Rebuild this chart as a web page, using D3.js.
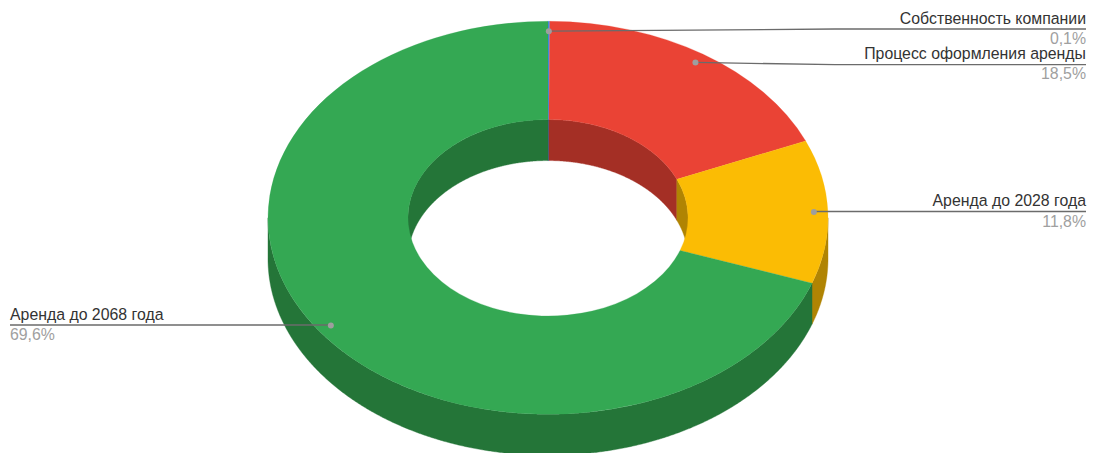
<!DOCTYPE html>
<html><head><meta charset="utf-8">
<script src="https://cdnjs.cloudflare.com/ajax/libs/d3/7.8.5/d3.min.js"></script>
<style>html,body{margin:0;padding:0;background:#fff;overflow:hidden}svg{display:block}text{font-family:"Liberation Sans",Arial,sans-serif;font-size:15.85px}</style>
</head><body><svg id="c" width="1097" height="453"></svg>
<script>
const categories = ["Собственность компании","Процесс оформления аренды","Аренда до 2028 года","Аренда до 2068 года"];
const values = [0.1,18.5,11.8,69.6];
const valueLabels = ["0,1%","18,5%","11,8%","69,6%"];
const colors = ["#4285f4","#ea4335","#fbbc04","#34a853"];
const sideColors = ["#2e5daa","#a42f25","#b08403","#247538"];

const W=1097,H=453,cx=548,cy=217.8,rx=280,ry=196.5,depth=41,holeRatio=0.5,dotRatio=0.95;
// label layout: elbow x, line y, name baseline, value baseline, anchor, text x
const layout=[
 {ex:835,ly:29,ny:24,vy:44,tx:1086,end:1086,anchor:"end"},
 {ex:835,ly:64.7,ny:59,vy:79,tx:1086,end:1086,anchor:"end"},
 {ex:813,ly:211.5,ny:206,vy:227,tx:1086,end:1086,anchor:"end"},
 {ex:331,ly:325,ny:320,vy:340,tx:10,end:10,anchor:"start"}
];
const svg=d3.select("#c");
const pie=d3.pie().sort(null).value(d=>d)(values);
const ex=d3.scaleLinear().domain([-1,1]).range([cx-rx,cx+rx]);
const ey=d3.scaleLinear().domain([-1,1]).range([cy-ry,cy+ry]);
const pt=(t,k,dy=0)=>[ex(k*Math.sin(t)),ey(-k*Math.cos(t))+dy];
const line=d3.line().curve(d3.curveLinear);
const range=(a,b)=>{const n=Math.max(2,Math.ceil((b-a)/0.005));return d3.range(n+1).map(i=>a+(b-a)*i/n);};
function wall(a,b,k){
  if(b<=a) return null;
  const ts=range(a,b);
  return line([...ts.map(t=>pt(t,k)),...ts.slice().reverse().map(t=>pt(t,k,depth))])+"Z";
}
const P=Math.PI;
// inner walls: the far side of the hole (angle within -90..90 degrees)
const inner=svg.append("g");
pie.forEach((s,i)=>{
  [[-P/2,P/2],[1.5*P,2.5*P]].forEach(([lo,hi])=>{
    const d=wall(Math.max(s.startAngle,lo),Math.min(s.endAngle,hi),holeRatio);
    if(d) inner.append("path").attr("d",d).attr("fill",sideColors[i]).attr("stroke",sideColors[i]).attr("stroke-width",0.4);
  });
});
// outer walls: near side (90..270 degrees)
const outer=svg.append("g");
pie.forEach((s,i)=>{
  const d=wall(Math.max(s.startAngle,P/2),Math.min(s.endAngle,1.5*P),1);
  if(d) outer.append("path").attr("d",d).attr("fill",sideColors[i]).attr("stroke",sideColors[i]).attr("stroke-width",0.4);
});
// top face
const arc=d3.arc().innerRadius(rx*holeRatio).outerRadius(rx);
svg.append("g").attr("transform",`translate(${cx},${cy}) scale(1,${ry/rx})`)
  .selectAll("path").data(pie).join("path")
  .attr("d",arc).attr("fill",(d,i)=>colors[i]).attr("stroke",(d,i)=>colors[i]).attr("stroke-width",0.3);
// leaders and labels
pie.forEach((s,i)=>{
  const l=layout[i],m=(s.startAngle+s.endAngle)/2,[dx,dy]=pt(m,dotRatio);
  svg.append("path").attr("d",line([[dx,dy],[l.ex,l.ly],[l.end,l.ly]])).attr("fill","none").attr("stroke","#6b6b6b").attr("stroke-width",1.3);
  svg.append("circle").attr("cx",dx).attr("cy",dy).attr("r",3).attr("fill","#9e9e9e");
  svg.append("text").attr("x",l.tx).attr("y",l.ny).attr("text-anchor",l.anchor).attr("fill","#333").text(categories[i]);
  svg.append("text").attr("x",l.tx).attr("y",l.vy).attr("text-anchor",l.anchor).attr("fill","#a0a0a0").text(valueLabels[i]);
});
</script></body></html>
